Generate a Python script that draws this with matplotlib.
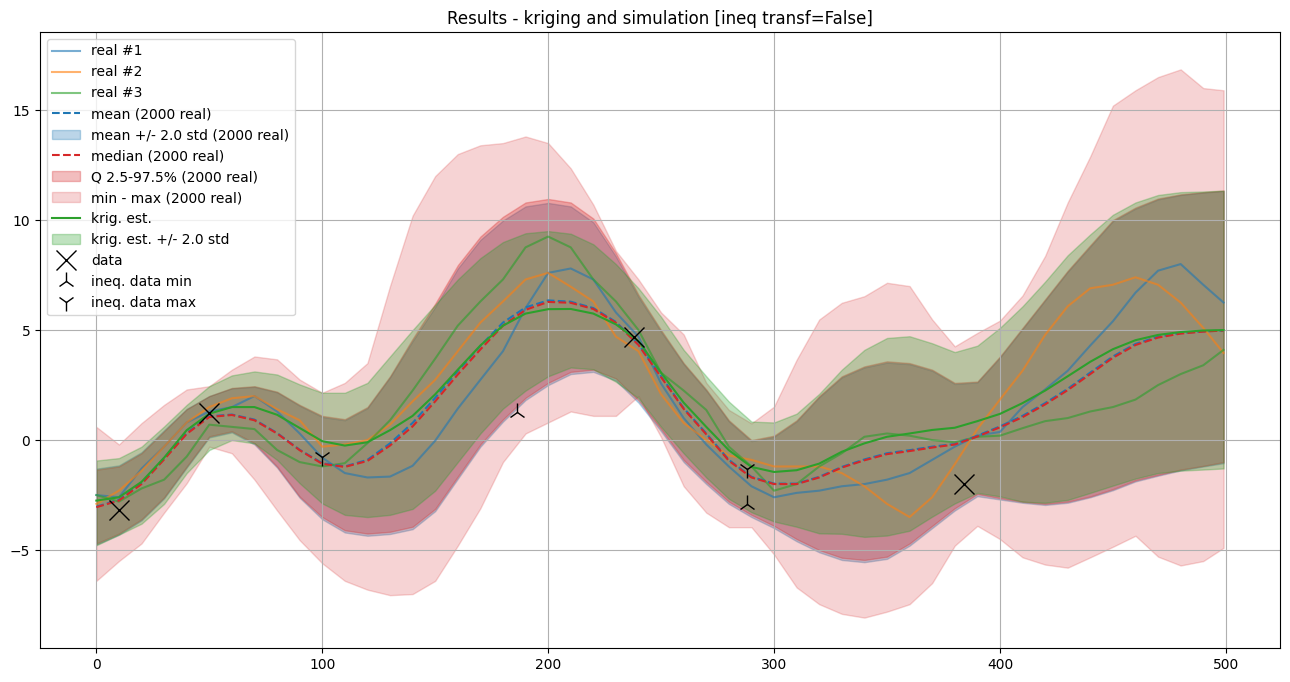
import numpy as np
import matplotlib
matplotlib.use("Agg")
import matplotlib.pyplot as plt

# ── sampled grid positions (every 10 units, last cell 499) ──────────────
x = [0, 10, 20, 30, 40, 50, 60, 70, 80, 90,
     100, 110, 120, 130, 140, 150, 160, 170, 180, 190,
     200, 210, 220, 230, 240, 250, 260, 270, 280, 290,
     300, 310, 320, 330, 340, 350, 360, 370, 380, 390,
     400, 410, 420, 430, 440, 450, 460, 470, 480, 490, 499]

# ── realizations ────────────────────────────────────────────────────────
real1 = [-2.5, -2.6, -1.3, -0.3, 0.8, 1.3, 1.5, 2.0, 1.3, 0.3,
         -0.8, -1.5, -1.7, -1.66, -1.17, -0.03, 1.43, 2.74, 4.04, 6.0,
         7.6, 7.8, 7.3, 5.8, 4.7, 2.57, 1.0, -0.2, -1.2, -2.1,
         -2.6, -2.4, -2.3, -2.1, -2.0, -1.8, -1.5, -0.9, -0.3, 0.2,
         0.37, 1.5, 2.3, 3.15, 4.3, 5.4, 6.7, 7.7, 8.0, 7.06, 6.25]
real2 = [-2.9, -2.3, -1.4, -0.3, 0.8, 1.5, 1.9, 2.0, 1.4, 0.9,
         -0.3, -0.2, 0.0, 0.7, 1.76, 2.74, 4.04, 5.34, 6.3, 7.3,
         7.6, 6.97, 6.3, 4.7, 4.04, 2.08, 0.78, 0.0, -0.7, -0.9,
         -1.2, -1.2, -1.2, -1.5, -2.1, -2.9, -3.5, -2.6, -1.1, 0.5,
         1.84, 3.15, 4.78, 6.08, 6.9, 7.06, 7.4, 7.06, 6.25, 5.1, 3.96]
real3 = [-2.5, -2.8, -2.2, -1.8, -0.75, 0.7, 0.6, 0.5, -0.45, -1.0,
         -1.2, -1.05, -0.14, 0.9, 2.25, 3.7, 5.2, 6.3, 7.3, 8.76,
         9.25, 8.76, 7.3, 6.3, 5.0, 3.06, 2.25, 1.37, -0.3, -1.2,
         -2.3, -2.0, -1.2, -0.6, 0.15, 0.3, 0.2, 0.0, -0.1, 0.15,
         0.2, 0.54, 0.86, 1.0, 1.3, 1.5, 1.84, 2.5, 3.0, 3.4, 4.1]

# ── statistics over the 2000 realizations ───────────────────────────────
mean = [-3.03, -2.72, -1.96, -0.82, 0.32, 1.08, 1.16, 0.93, 0.32, -0.44,
        -1.05, -1.2, -0.9, -0.15, 0.78, 1.92, 3.14, 4.28, 5.34, 6.03,
        6.35, 6.29, 6.0, 5.37, 4.36, 2.9, 1.45, 0.3, -0.9, -1.67,
        -1.98, -1.98, -1.67, -1.22, -0.88, -0.6, -0.46, -0.3, -0.18, 0.2,
        0.62, 1.1, 1.68, 2.33, 3.07, 3.8, 4.37, 4.7, 4.86, 4.94, 4.98]
median = [-3.05, -2.75, -2.0, -0.88, 0.28, 1.05, 1.14, 0.9, 0.3, -0.46,
          -1.08, -1.22, -0.95, -0.25, 0.62, 1.76, 2.98, 4.12, 5.2, 5.92,
          6.28, 6.24, 5.96, 5.33, 4.32, 2.86, 1.42, 0.26, -0.94, -1.7,
          -2.0, -2.0, -1.7, -1.25, -0.92, -0.64, -0.5, -0.34, -0.2, 0.16,
          0.58, 1.04, 1.62, 2.27, 3.0, 3.74, 4.32, 4.66, 4.84, 4.93, 4.98]
std_lo = [-4.75, -4.3, -3.65, -2.65, -1.25, 0.12, 0.35, -0.2, -1.25, -2.62,
          -3.6, -4.2, -4.35, -4.27, -4.05, -3.23, -1.76, -0.3, 0.84, 1.82,
          2.5, 3.0, 3.1, 2.7, 1.7, 0.4, -1.0, -2.0, -2.9, -3.5,
          -4.0, -4.6, -5.1, -5.45, -5.55, -5.4, -4.8, -4.0, -3.2, -2.55,
          -2.7, -2.85, -2.95, -2.85, -2.6, -2.28, -1.88, -1.62, -1.38, -1.2, -1.05]
std_hi = [-1.3, -1.15, -0.55, 0.45, 1.42, 2.0, 2.35, 2.42, 2.17, 1.56,
          1.05, 0.9, 1.45, 2.85, 4.5, 6.05, 7.8, 9.1, 9.98, 10.62,
          10.78, 10.62, 9.9, 8.35, 6.5, 4.92, 3.45, 2.25, 0.85, -0.05,
          0.15, 0.85, 1.95, 2.85, 3.3, 3.52, 3.45, 3.15, 2.55, 2.62,
          3.75, 5.05, 6.35, 7.65, 8.8, 9.95, 10.52, 10.94, 11.14, 11.25, 11.32]
q_lo = [-4.7, -4.25, -3.6, -2.6, -1.2, 0.17, 0.4, -0.14, -1.2, -2.57,
        -3.5, -4.1, -4.25, -4.17, -3.94, -3.13, -1.66, -0.2, 0.94, 1.92,
        2.6, 3.1, 3.2, 2.8, 1.8, 0.5, -0.9, -1.9, -2.8, -3.4,
        -3.9, -4.5, -5.0, -5.35, -5.45, -5.3, -4.7, -3.9, -3.1, -2.45,
        -2.64, -2.8, -2.9, -2.8, -2.56, -2.23, -1.83, -1.58, -1.34, -1.17, -1.0]
q_hi = [-1.35, -1.2, -0.6, 0.4, 1.4, 2.0, 2.37, 2.45, 2.2, 1.6,
        1.1, 0.95, 1.5, 2.9, 4.6, 6.2, 7.95, 9.25, 10.15, 10.8,
        10.96, 10.8, 10.07, 8.5, 6.6, 5.0, 3.5, 2.3, 0.9, 0.0,
        0.2, 0.9, 2.0, 2.9, 3.35, 3.58, 3.5, 3.2, 2.6, 2.66,
        3.8, 5.1, 6.4, 7.7, 8.86, 10.0, 10.57, 10.98, 11.17, 11.27, 11.34]
v_min = [-6.4, -5.5, -4.7, -3.3, -1.96, -0.3, -0.6, -1.8, -3.2, -4.55,
         -5.6, -6.4, -6.8, -7.05, -7.0, -6.4, -4.8, -3.1, -1.0, 0.3,
         0.8, 1.3, 1.1, 1.1, 2.0, 0.13, -2.1, -3.3, -3.96, -3.96,
         -5.2, -6.7, -7.46, -7.9, -8.07, -7.8, -7.46, -6.5, -4.8, -3.9,
         -4.5, -5.33, -5.66, -5.8, -5.33, -4.85, -4.35, -5.3, -5.7, -5.5, -4.9]
v_max = [0.6, -0.2, 0.77, 1.6, 2.3, 2.45, 3.2, 3.8, 3.67, 2.75,
         2.15, 2.6, 3.5, 7.0, 10.2, 12.0, 13.0, 13.4, 13.5, 13.8,
         13.5, 12.35, 10.7, 8.6, 7.3, 5.8, 4.8, 2.6, 1.37, 0.76,
         1.52, 3.65, 5.48, 6.24, 6.54, 7.15, 7.0, 5.48, 4.26, 4.87,
         5.43, 6.57, 8.37, 10.8, 12.9, 15.2, 15.9, 16.5, 16.85, 16.0, 15.9]

# ── kriging ─────────────────────────────────────────────────────────────
krig = [-2.75, -2.6, -1.9, -0.8, 0.45, 1.2, 1.5, 1.5, 1.15, 0.55,
        -0.05, -0.25, -0.1, 0.45, 1.1, 2.08, 3.2, 4.3, 5.2, 5.75,
        5.95, 5.96, 5.75, 5.26, 4.5, 3.06, 1.7, 0.6, -0.46, -1.22,
        -1.45, -1.37, -1.07, -0.53, -0.15, 0.15, 0.3, 0.46, 0.56, 0.86,
        1.19, 1.68, 2.25, 2.9, 3.56, 4.13, 4.54, 4.78, 4.91, 4.98, 5.0]
krig_lo = [-4.78, -4.3, -3.8, -2.9, -1.5, -0.45, 0.0, -0.15, -0.9, -1.96,
           -2.88, -3.4, -3.5, -3.4, -3.13, -2.3, -1.0, 0.3, 1.43, 2.25,
           2.9, 3.3, 3.22, 2.65, 1.9, 0.6, -0.6, -1.7, -2.67, -3.28,
           -3.7, -3.94, -4.24, -4.26, -4.4, -4.34, -4.12, -3.48, -2.88, -2.4,
           -2.56, -2.8, -2.85, -2.72, -2.4, -2.07, -1.75, -1.5, -1.39, -1.34, -1.29]
krig_hi = [-0.93, -0.82, -0.3, 0.62, 1.6, 2.45, 2.94, 3.12, 2.98, 2.53,
           2.15, 2.15, 2.6, 3.8, 5.0, 6.15, 7.3, 8.27, 9.0, 9.4,
           9.5, 9.38, 8.9, 8.0, 6.9, 5.6, 4.1, 2.9, 1.75, 0.84,
           0.8, 1.2, 2.1, 3.2, 4.1, 4.64, 4.72, 4.4, 4.0, 4.29,
           5.1, 6.08, 7.2, 8.4, 9.35, 10.24, 10.8, 11.14, 11.27, 11.3, 11.34]

# ── conditioning data ───────────────────────────────────────────────────
data_x = [10, 50, 238, 384]
data_v = [-3.2, 1.23, 4.68, -1.98]
ineq_min_x = [186, 288]
ineq_min_v = [1.27, -2.9]
ineq_max_x = [100, 288]
ineq_max_v = [-0.75, -1.3]

nreal = 2000

fig = plt.figure(figsize=(12.9, 6.82), dpi=100)
ax = fig.add_axes([0.031, 0.0499, 0.9612, 0.9032])

ax.plot(x, real1, c="C0", alpha=0.6, label="real #1")
ax.plot(x, real2, c="C1", alpha=0.6, label="real #2")
ax.plot(x, real3, c="C2", alpha=0.6, label="real #3")

ax.plot(x, mean, c="C0", ls="dashed", label=f"mean ({nreal} real)")
ax.fill_between(x, std_lo, std_hi, color="C0", alpha=0.3,
                label=f"mean +/- 2.0 std ({nreal} real)")
ax.plot(x, median, c="C3", ls="dashed", label=f"median ({nreal} real)")
ax.fill_between(x, q_lo, q_hi, color="C3", alpha=0.3,
                label=f"Q 2.5-97.5% ({nreal} real)")
ax.fill_between(x, v_min, v_max, color="C3", alpha=0.2,
                label=f"min - max ({nreal} real)")

ax.plot(x, krig, c="C2", label="krig. est.")
ax.fill_between(x, krig_lo, krig_hi, color="C2", alpha=0.3,
                label="krig. est. +/- 2.0 std")

ax.plot(data_x, data_v, "x", c="k", markersize=15, label="data")
ax.plot(ineq_min_x, ineq_min_v, "2", c="k", markersize=13, label="ineq. data min")
ax.plot(ineq_max_x, ineq_max_v, "1", c="k", markersize=13, label="ineq. data max")

ax.set_xlim(-24.95, 523.95)
ax.set_ylim(-9.45, 18.55)
ax.grid()
ax.legend(loc="upper left")
ax.set_title("Results - kriging and simulation [ineq transf=False]")

fig.savefig("out.png", dpi=100)
plt.close(fig)
